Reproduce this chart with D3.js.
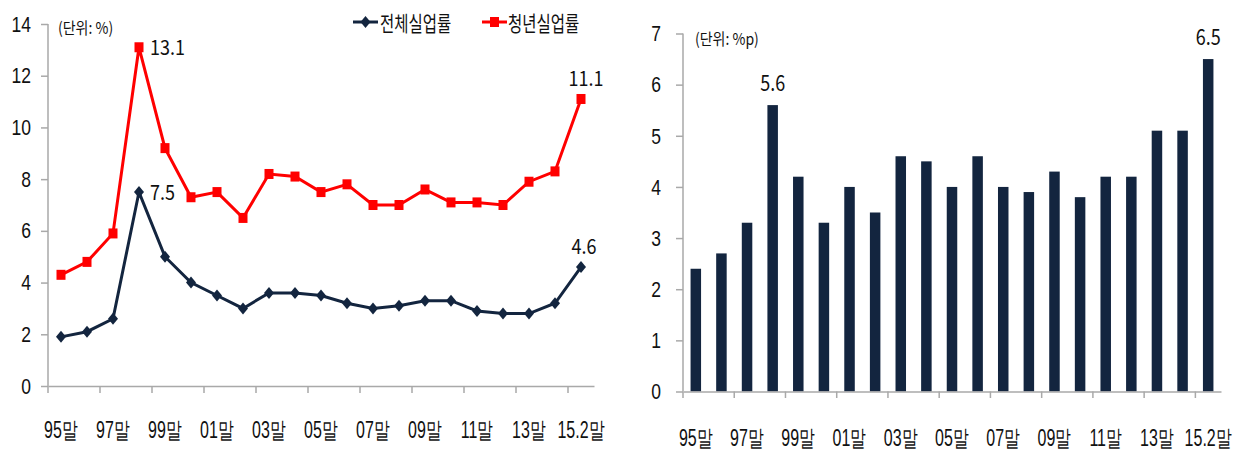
<!DOCTYPE html>
<html>
<head>
<meta charset="utf-8">
<script src="https://cdn.jsdelivr.net/npm/d3@7"></script>
<style>
  body { margin: 0; background: white; }
  svg { display: block; font-family: "Noto Sans CJK KR", "Noto Sans", sans-serif; }
  .axis path, .axis line { stroke: #a9a9a9; stroke-width: 1.5; }
  .axis text { fill: #111; }
</style>
</head>
<body>
<div id="wykres"></div>
<script>
// categories (year end)
var cats = ["95말","96말","97말","98말","99말","00말","01말","02말","03말","04말","05말","06말","07말","08말","09말","10말","11말","12말","13말","14말","15.2말"];
// left chart: unemployment rates, %
var total_rate = [1.9, 2.1, 2.6, 7.5, 5.0, 4.0, 3.5, 3.0, 3.6, 3.6, 3.5, 3.2, 3.0, 3.1, 3.3, 3.3, 2.9, 2.8, 2.8, 3.2, 4.6];
var youth_rate = [4.3, 4.8, 5.9, 13.1, 9.2, 7.3, 7.5, 6.5, 8.2, 8.1, 7.5, 7.8, 7.0, 7.0, 7.6, 7.1, 7.1, 7.0, 7.9, 8.3, 11.1];
// right chart: gap, %p
var gap = [2.4, 2.7, 3.3, 5.6, 4.2, 3.3, 4.0, 3.5, 4.6, 4.5, 4.0, 4.6, 4.0, 3.9, 4.3, 3.8, 4.2, 4.2, 5.1, 5.1, 6.5];
var left_ticks = [0, 2, 4, 6, 8, 10, 12, 14];
var right_ticks = [0, 1, 2, 3, 4, 5, 6, 7];
var legend_names = ["전체실업률", "청년실업률"];

var navy = "#13253f";
var red = "#ff0000";

var svg = d3.select("#wykres")
  .append("svg")
  .attr("width", 1247)
  .attr("height", 451);

// every second category gets a label
var label_cats = cats.filter(function (d, i) { return i % 2 == 0; });

// text in the picture is squeezed sideways, so stretch it vertically
function txt(g, x, y, s, fs, sy, anchor) {
  return g.append("text")
    .attr("transform", "translate(" + x + "," + y + ") scale(1," + sy + ")")
    .attr("text-anchor", anchor || "start")
    .style("font-size", fs + "px")
    .style("fill", "#111")
    .text(s);
}

function stretch_x_labels(axis_g, offset, fs, sy) {
  axis_g.selectAll("text")
    .attr("y", offset / sy)
    .attr("dy", 0)
    .attr("transform", "scale(1," + sy + ")")
    .style("font-size", fs + "px");
}

function stretch_y_labels(axis_g, fs, sy) {
  axis_g.selectAll("text")
    .attr("transform", "scale(1," + sy + ")")
    .style("font-size", fs + "px");
}

// ---------------- left chart ----------------
var xL = d3.scaleBand().domain(cats).range([48, 594]);
var yL = d3.scaleLinear().domain([0, 14]).range([386, 24]);

var yAxisL = svg.append("g")
  .attr("class", "axis")
  .attr("transform", "translate(48,0)")
  .call(d3.axisLeft(yL).tickValues(left_ticks).tickFormat(d3.format("d")).tickSize(7).tickPadding(10).tickSizeOuter(0));
yAxisL.select(".domain").remove();
yAxisL.append("line").attr("x1", 0).attr("x2", 0).attr("y1", yL(14)).attr("y2", yL(0));
stretch_y_labels(yAxisL, 17.5, 1.25);

var xAxisL = svg.append("g")
  .attr("class", "axis")
  .attr("transform", "translate(0,386)")
  .call(d3.axisBottom(xL).tickValues(label_cats).tickSize(0).tickSizeOuter(0));
stretch_x_labels(xAxisL, 52, 16, 1.45);

// tick marks between categories
svg.append("g")
  .attr("class", "axis")
  .selectAll("line")
  .data(label_cats)
  .enter().append("line")
  .attr("x1", d => xL(d))
  .attr("x2", d => xL(d))
  .attr("y1", 386)
  .attr("y2", 393);

var lineL = function (vals) {
  return d3.line()
    .x(function (d, i) { return xL(cats[i]) + xL.bandwidth() / 2; })
    .y(function (d) { return yL(d); })(vals);
};

svg.append("path")
  .attr("d", lineL(youth_rate))
  .attr("fill", "none")
  .attr("stroke", red)
  .attr("stroke-width", 3);

svg.append("path")
  .attr("d", lineL(total_rate))
  .attr("fill", "none")
  .attr("stroke", navy)
  .attr("stroke-width", 3);

function diamond(cx, cy) {
  return "M" + cx + "," + (cy - 6) + "L" + (cx + 5) + "," + cy + "L" + cx + "," + (cy + 6) + "L" + (cx - 5) + "," + cy + "Z";
}

svg.append("g")
  .selectAll("rect")
  .data(youth_rate)
  .enter().append("rect")
  .attr("x", (d, i) => xL(cats[i]) + xL.bandwidth() / 2 - 4.5)
  .attr("y", d => yL(d) - 5)
  .attr("width", 9)
  .attr("height", 10)
  .attr("fill", red);

svg.append("g")
  .selectAll("path")
  .data(total_rate)
  .enter().append("path")
  .attr("d", (d, i) => diamond(xL(cats[i]) + xL.bandwidth() / 2, yL(d)))
  .attr("fill", navy);

// value labels
var mid = xL.bandwidth() / 2;
txt(svg, xL(cats[3]) + mid + 11, yL(youth_rate[3]) + 8, youth_rate[3].toFixed(1), 18, 1.15);
txt(svg, xL(cats[3]) + mid + 11, yL(total_rate[3]) + 8, total_rate[3].toFixed(1), 18, 1.15);
txt(svg, xL(cats[20]) + mid + 5, yL(youth_rate[20]) - 13, youth_rate[20].toFixed(1), 18, 1.15, "middle");
txt(svg, xL(cats[20]) + mid + 3, yL(total_rate[20]) - 13, total_rate[20].toFixed(1), 18, 1.15, "middle");

txt(svg, 58, 34, "(단위: %)", 14, 1.15);

// legend
svg.append("line").attr("x1", 353).attr("x2", 378).attr("y1", 22).attr("y2", 22)
  .attr("stroke", navy).attr("stroke-width", 3);
svg.append("path").attr("d", diamond(365.5, 22)).attr("fill", navy);
txt(svg, 380, 31, legend_names[0], 15.5, 1.35);

svg.append("line").attr("x1", 482).attr("x2", 507).attr("y1", 22).attr("y2", 22)
  .attr("stroke", red).attr("stroke-width", 3);
svg.append("rect").attr("x", 490).attr("y", 17).attr("width", 9).attr("height", 10).attr("fill", red);
txt(svg, 508, 31, legend_names[1], 15.5, 1.35);

// ---------------- right chart ----------------
var xR = d3.scaleBand().domain(cats).range([683, 1221]);
var yR = d3.scaleLinear().domain([0, 7]).range([391.5, 33.5]);
var barW = xR.bandwidth() * 0.41;

var yAxisR = svg.append("g")
  .attr("class", "axis")
  .attr("transform", "translate(683,0)")
  .call(d3.axisLeft(yR).tickValues(right_ticks).tickFormat(d3.format("d")).tickSize(7).tickPadding(15).tickSizeOuter(0));
yAxisR.select(".domain").remove();
yAxisR.append("line").attr("x1", 0).attr("x2", 0).attr("y1", yR(7)).attr("y2", yR(0));
stretch_y_labels(yAxisR, 17.5, 1.3);

svg.append("g")
  .selectAll("rect")
  .data(gap)
  .enter().append("rect")
  .attr("x", (d, i) => xR(cats[i]) + (xR.bandwidth() - barW) / 2)
  .attr("y", d => yR(d))
  .attr("width", barW)
  .attr("height", d => yR(0) - yR(d))
  .attr("fill", navy);

var xAxisR = svg.append("g")
  .attr("class", "axis")
  .attr("transform", "translate(0,391.5)")
  .call(d3.axisBottom(xR).tickValues(label_cats).tickSize(0).tickSizeOuter(0));
stretch_x_labels(xAxisR, 55, 16, 1.45);

svg.append("g")
  .attr("class", "axis")
  .selectAll("line")
  .data(label_cats)
  .enter().append("line")
  .attr("x1", d => xR(d))
  .attr("x2", d => xR(d))
  .attr("y1", 391.5)
  .attr("y2", 398);

var midR = xR.bandwidth() / 2;
txt(svg, xR(cats[3]) + midR, yR(gap[3]) - 14, gap[3].toFixed(1), 18, 1.2, "middle");
txt(svg, xR(cats[20]) + midR, yR(gap[20]) - 14, gap[20].toFixed(1), 18, 1.2, "middle");

txt(svg, 695, 45, "(단위: %p)", 14, 1.15);
</script>
</body>
</html>
